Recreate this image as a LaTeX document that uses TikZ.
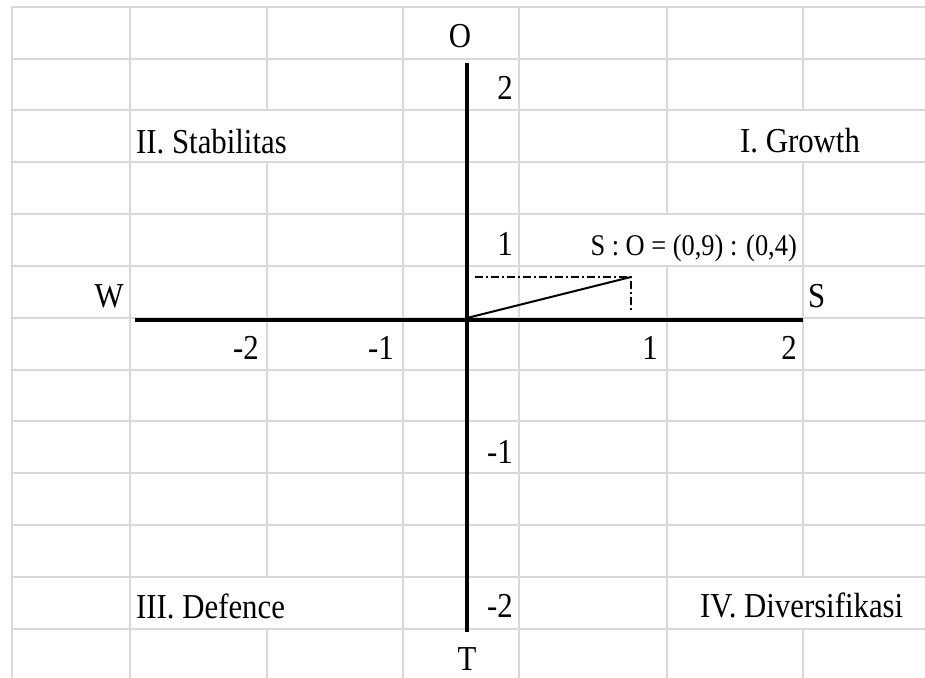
\documentclass[tikz,border=0pt]{standalone}
\usepackage{fontspec}
\setmainfont[FakeStretch=0.88]{Liberation Serif}
\definecolor{gridgray}{RGB}{217,217,217}
\tikzset{
  gridline/.style={draw=gridgray, line width=2.4pt, line cap=rect},
  axisline/.style={draw=black, line width=4.6pt},
  vecline/.style={draw=black, line width=2pt},
  dashdotline/.style={draw=black, line width=2pt, dash pattern=on 8pt off 3pt on 2pt off 3pt},
  lab/.style={inner sep=0pt, font=\fontsize{35}{40}\selectfont},
  smalllab/.style={inner sep=0pt, font=\fontsize{30}{34}\selectfont}
}
\begin{document}
\begin{tikzpicture}[x=1pt,y=-1pt]
\useasboundingbox[fill=white] (0,0) rectangle (925,677);
% grid: horizontal lines
\foreach \yy in {7,59,110,162,214,266,318,370,421,473,525,577,629}
  \draw[gridline] (12,\yy) -- (925,\yy);
% grid: vertical lines (some broken where cells are merged)
\draw[gridline] (12,7) -- (12,677);
\draw[gridline] (130,7) -- (130,677);
\draw[gridline] (267,7) -- (267,110) (267,162) -- (267,577) (267,629) -- (267,677);
\draw[gridline] (403,7) -- (403,677);
\draw[gridline] (519,7) -- (519,677);
\draw[gridline] (667,7) -- (667,214) (667,266) -- (667,677);
\draw[gridline] (803,7) -- (803,110) (803,162) -- (803,577) (803,629) -- (803,677);

% axes
\coordinate (xl) at (135,320);
\coordinate (xr) at (803,320);
\coordinate (yt) at (467,63);
\coordinate (yb) at (467,632);
\draw[axisline] (xl) -- (xr);
\draw[axisline] (yt) -- (yb);

% axis end labels
\node[lab, anchor=base] (lO) at (460,48) {O};
\node[lab, anchor=base] (lT) at (467,670) {T};
\node[lab, anchor=base east] (lW) at (124,307) {W};
\node[lab, anchor=base west] (lS) at (808,307) {S};

% vertical axis numbers
\node[lab, anchor=base east] (y2) at (513,99) {2};
\node[lab, anchor=base east] (y1) at (513,255) {1};
\node[lab, anchor=base east] (ym1) at (513,463) {-1};
\node[lab, anchor=base east] (ym2) at (513,617) {-2};

% horizontal axis numbers
\node[lab, anchor=base east] (xm2) at (259,359) {-2};
\node[lab, anchor=base east] (xm1) at (394,359) {-1};
\node[lab, anchor=base east] (x1) at (658,359) {1};
\node[lab, anchor=base east] (x2) at (797,359) {2};

% quadrant labels
\node[lab, anchor=base west] (q2) at (136,153) {II. Stabilitas};
\node[lab, anchor=base west] (q1) at (740,152) {I. Growth};
\node[lab, anchor=base west] (q3) at (136,618) {III. Defence};
\node[lab, anchor=base west] (q4) at (700,617) {IV. Diversifikasi};

% ratio label
\node[smalllab, anchor=base east] (ratio) at (797,255) {S : O = (0,9) : (0,4)};

% position vector
\coordinate (org) at (467,318);
\coordinate (pt) at (631,277);
\coordinate (hs) at (475,277);
\coordinate (vb) at (631,312);
\draw[vecline] (org) -- (pt);
\draw[dashdotline] (hs) -- (pt) -- (vb);
\end{tikzpicture}
\end{document}
